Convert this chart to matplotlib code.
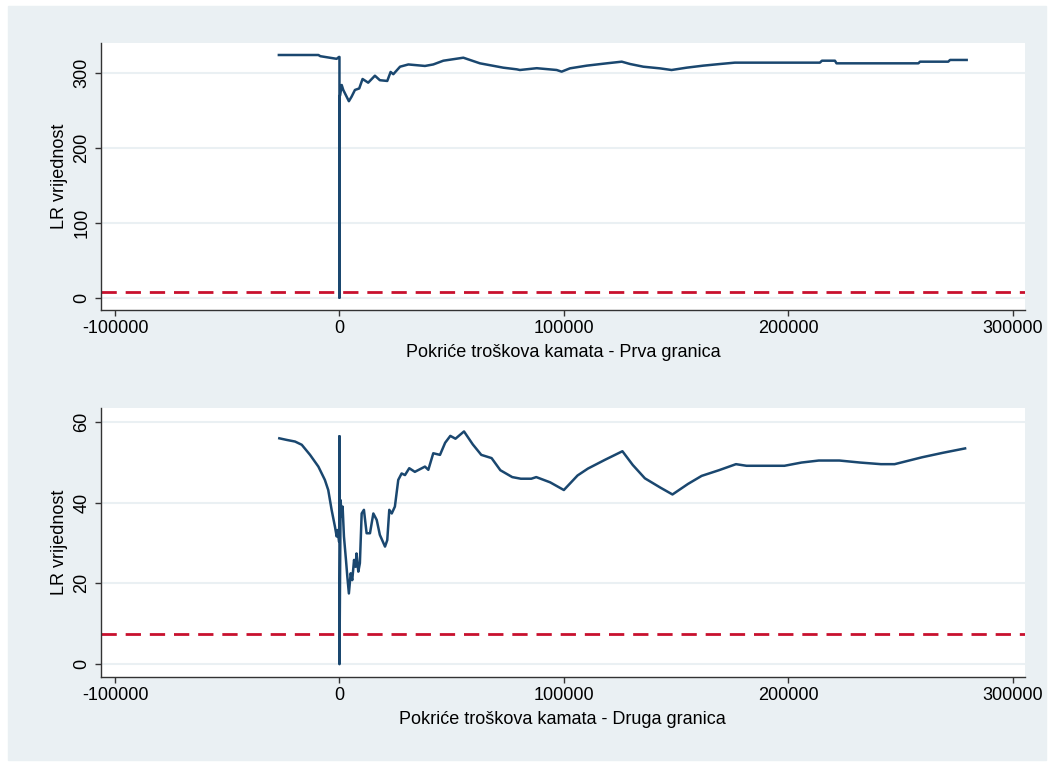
import matplotlib
matplotlib.use("Agg")
import matplotlib.pyplot as plt
from matplotlib.patches import Rectangle

plt.rcParams['font.family'] = ['Liberation Sans', 'DejaVu Sans']

# LR vrijednost po pragu - prva granica
X_PRVA = [-27000, -9400, -8500, -1250, -200, 0, 0, 0, 300, 1000, 1700, 4200, 5400, 6900, 8800,
          10300, 12800, 15800, 18000, 21300, 22800, 24000, 27000, 30700, 38100, 41800,
          46300, 55200, 62600, 73000, 79000, 80400, 87900, 96800, 99000, 102700, 110200,
          119100, 125800, 129500, 135400, 142800, 148000, 154700, 162100, 169600, 176200,
          214100, 215000, 220800, 221500, 258000, 258700, 271300, 272100, 279500]
LR_PRVA = [323.6, 323.6, 322.0, 318.5, 321.0, 321.0, 0.0, 268.0, 270.0, 283.6, 277.0, 262.0,
           268.0, 277.0, 279.0, 291.6, 286.7, 296.0, 290.0, 289.0, 301.0, 298.0, 308.0,
           311.0, 309.0, 311.0, 316.0, 320.0, 312.5, 306.7, 304.5, 303.6, 306.0, 303.6,
           301.4, 305.8, 309.4, 312.5, 314.7, 311.6, 308.0, 305.8, 303.6, 306.7, 309.4,
           311.6, 313.4, 313.4, 316.0, 316.0, 312.5, 312.5, 314.7, 314.7, 317.0, 317.0]

# LR vrijednost po pragu - druga granica
X_DRUGA = [-26800, -23500, -19800, -16800, -13100, -9400, -6500, -5000, -3500, -2000, -1250,
           -800, -200, 0, 0, 0, 500, 1000, 1400, 2000, 2900, 3500, 4200, 5000, 5700, 6500,
           7200, 7600, 8400, 9100, 9900, 10900, 12100, 13600, 15100, 16600, 18000, 20300,
           21300, 22200, 23300, 24700, 26200, 27700, 29200, 31100, 33600, 38100, 39600,
           41800, 44800, 47100, 49400, 51700, 55500, 59400, 63200, 67800, 71700, 77000,
           80800, 85500, 87700, 93900, 100000, 106100, 110700, 118400, 126100, 130700,
           136100, 143000, 148400, 155300, 161400, 169100, 176700, 181400, 198300, 205900,
           213600, 222800, 232000, 241300, 247400, 259600, 268800, 278800]
LR_DRUGA = [55.9, 55.5, 55.1, 54.3, 51.8, 48.9, 45.6, 43.1, 38.2, 34.0, 31.6, 33.2, 30.3,
            30.3, 56.4, 0.0, 40.6, 36.5, 39.0, 31.6, 25.8, 21.7, 17.5, 22.5, 20.8, 25.8,
            24.1, 27.4, 22.9, 25.0, 37.3, 38.2, 32.4, 32.4, 37.3, 35.7, 32.0, 29.1, 30.7,
            38.2, 37.3, 39.0, 45.6, 47.2, 46.8, 48.5, 47.6, 48.9, 48.1, 52.2, 51.8, 54.8,
            56.5, 55.8, 57.6, 54.4, 51.8, 51.0, 48.0, 46.3, 45.9, 45.9, 46.3, 45.0, 43.1,
            46.7, 48.4, 50.6, 52.7, 49.3, 46.0, 43.7, 42.0, 44.6, 46.6, 48.0, 49.5, 49.1,
            49.1, 49.9, 50.4, 50.4, 49.9, 49.5, 49.5, 51.2, 52.3, 53.4]

KRITICNA = 7.35
X_TICKS = [-100000, 0, 100000, 200000, 300000]
Y_TICKS_PRVA = [0, 100, 200, 300]
Y_TICKS_DRUGA = [0, 20, 40, 60]

NAVY = '#1A476F'
RED = '#C8102E'
GRID = '#EAF0F3'
BG = '#EAF0F3'

W, H = 1052, 766


def draw_panel(ax, x, y, yticks, ylim, xlabel):
    ax.set_facecolor('white')
    ax.plot(x, y, color=NAVY, lw=1.8, zorder=3)
    ax.axhline(KRITICNA, color=RED, lw=2.0, dashes=(5.5, 3.2), zorder=2)
    ax.set_xlim(-106400, 305500)
    ax.set_ylim(*ylim)
    ax.set_xticks(X_TICKS)
    ax.set_xticklabels([str(t) for t in X_TICKS])
    ax.set_yticks(yticks)
    ax.set_yticklabels([str(t) for t in yticks], rotation=90, va='center')
    ax.yaxis.grid(True, color=GRID, lw=1.5, zorder=0)
    ax.set_axisbelow(True)
    for side in ('top', 'right'):
        ax.spines[side].set_visible(False)
    for side in ('left', 'bottom'):
        ax.spines[side].set_color('#333333')
        ax.spines[side].set_linewidth(1.0)
    ax.tick_params(axis='both', length=4.5, width=1.0, color='#333333', labelsize=13)
    ax.tick_params(axis='x', pad=3)
    ax.tick_params(axis='y', pad=3)
    ax.set_xlabel(xlabel, fontsize=13, labelpad=5)
    ax.set_ylabel('LR vrijednost', fontsize=13, labelpad=4)


def main():
    fig = plt.figure(figsize=(W / 100, H / 100), dpi=100)
    fig.patches.append(Rectangle((8 / W, 6 / H), (1046 - 8) / W, (760 - 6) / H,
                                 transform=fig.transFigure, color=BG, zorder=-10))

    ax1 = fig.add_axes([100.7 / W, 1 - 310 / H, (1025 - 100.7) / W, (310 - 42.7) / H])
    ax2 = fig.add_axes([100.7 / W, 1 - 676.7 / H, (1025 - 100.7) / W, (676.7 - 408) / H])

    draw_panel(ax1, X_PRVA, LR_PRVA, Y_TICKS_PRVA, (-16.4, 340),
               'Pokriće troškova kamata - Prva granica')
    draw_panel(ax2, X_DRUGA, LR_DRUGA, Y_TICKS_DRUGA, (-3.1, 63.4),
               'Pokriće troškova kamata - Druga granica')

    fig.savefig('out.png', dpi=100)


if __name__ == '__main__':
    main()
